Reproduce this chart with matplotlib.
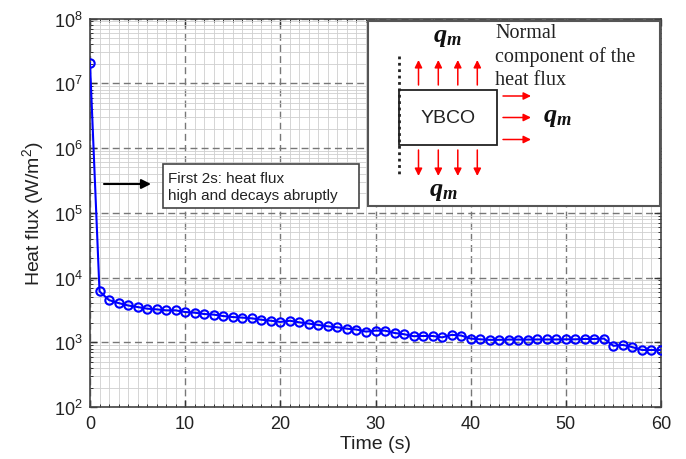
import matplotlib
matplotlib.use("Agg")
import matplotlib.pyplot as plt
from matplotlib.ticker import MultipleLocator, LogLocator, NullFormatter
from matplotlib.patches import Rectangle

plt.rcParams['font.family'] = ['Liberation Sans', 'DejaVu Sans']
plt.rcParams['mathtext.fontset'] = 'custom'
plt.rcParams['mathtext.rm'] = 'Liberation Sans'
plt.rcParams['mathtext.it'] = 'Liberation Sans:italic'
plt.rcParams['mathtext.bf'] = 'Liberation Serif:italic:bold'

# ---- data ----
time_s = list(range(0, 61))
heat_flux = [2.04e7, 6100, 4480, 4030, 3700, 3500, 3300, 3220, 3110, 3110,
             2930, 2860, 2730, 2670, 2540, 2450, 2400, 2340, 2230, 2150,
             2060, 2150, 2030, 1940, 1850, 1760, 1700, 1620, 1570, 1460,
             1510, 1510, 1390, 1330, 1240, 1250, 1250, 1190, 1300, 1270,
             1140, 1110, 1090, 1090, 1100, 1100, 1100, 1105, 1105, 1105,
             1110, 1110, 1125, 1125, 1140, 880, 910, 840, 760, 760, 760]
x_ticks = [0, 10, 20, 30, 40, 50, 60]
y_ticks = [1e2, 1e3, 1e4, 1e5, 1e6, 1e7, 1e8]

W, H = 686, 460
fig = plt.figure(figsize=(W / 100, H / 100), dpi=100)
ax_l, ax_r, ax_t, ax_b = 90, 661, 19.5, 408
ax = fig.add_axes([ax_l / W, 1 - ax_b / H, (ax_r - ax_l) / W, (ax_b - ax_t) / H])

ax.plot(time_s, heat_flux, color='#0000ff', lw=1.5, marker='o', ms=6,
        mfc='none', mec='#0000ff', mew=1.5, zorder=3)
ax.set_yscale('log')
ax.set_xlim(0, 60)
ax.set_ylim(1e2, 1e8)
ax.set_xticks(x_ticks)
ax.set_yticks(y_ticks)
ax.xaxis.set_minor_locator(MultipleLocator(1))
ax.yaxis.set_minor_locator(LogLocator(base=10, subs=range(2, 10), numticks=20))
ax.yaxis.set_minor_formatter(NullFormatter())
ax.grid(which='major', color='#777777', ls=(0, (5, 3)), lw=1.0)
ax.grid(which='minor', color='#cfcfcf', ls='-', lw=0.6)
ax.set_axisbelow(True)
ax.tick_params(which='both', direction='in', top=True, right=True,
               colors='#333333', labelcolor='#222222', labelsize=13)
ax.tick_params(axis='x', which='major', pad=6)
ax.tick_params(axis='y', which='major', pad=5)
ax.tick_params(which='major', length=5, width=1)
ax.tick_params(which='minor', length=2.5, width=0.7)
for sp in ax.spines.values():
    sp.set_color('#444444')
    sp.set_linewidth(1.2)
ax.set_xlabel('Time (s)', fontsize=14, color='#222222', labelpad=2)
ax.set_ylabel('Heat flux (W/m$^{2}$)', fontsize=14, color='#222222', labelpad=6)

# ---- overlay in pixel coordinates for annotations ----
ov = fig.add_axes([0, 0, 1, 1], facecolor='none', zorder=5)
ov.set_xlim(0, W)
ov.set_ylim(H, 0)
ov.axis('off')

# annotation box
ov.add_patch(Rectangle((163, 165), 196, 44, facecolor='white',
                       edgecolor='#444444', lw=1.2))
ov.text(168, 187.5, 'First 2s: heat flux\nhigh and decays abruptly',
        fontsize=11, color='#222222', va='center', ha='left', linespacing=1.2)
ov.annotate('', xy=(151, 185), xytext=(104, 185),
            arrowprops=dict(arrowstyle='-|>', color='black', lw=1.5,
                            mutation_scale=14, shrinkA=0, shrinkB=0))

# inset schematic
ov.add_patch(Rectangle((368, 22), 292, 185, facecolor='white',
                       edgecolor='#555555', lw=1.5))
ov.add_patch(Rectangle((399, 91), 98, 55, facecolor='white',
                       edgecolor='#222222', lw=1.3))
ov.text(448, 118.5, 'YBCO', fontsize=14, ha='center', va='center', color='#222222')
ov.plot([399, 399], [57, 178], color='#222222', lw=2, ls=(0, (1, 1.3)))
arrow_kw = dict(arrowstyle='-|>', color='red', lw=1.1, mutation_scale=11,
                shrinkA=0, shrinkB=0)
for xa in [418.5, 438.3, 457.8, 477.3]:
    ov.annotate('', xy=(xa, 61), xytext=(xa, 86), arrowprops=arrow_kw)
    ov.annotate('', xy=(xa, 177), xytext=(xa, 151), arrowprops=arrow_kw)
for ya in [97, 118.5, 140.5]:
    ov.annotate('', xy=(531, ya), xytext=(503, ya), arrowprops=arrow_kw)
qkw = dict(fontsize=19, ha='center', va='center', color='#111111')
ov.text(447, 37, r'$\mathbf{q_m}$', **qkw)
ov.text(557, 117, r'$\mathbf{q_m}$', **qkw)
ov.text(443, 191, r'$\mathbf{q_m}$', **qkw)
ov.text(495, 57, 'Normal\ncomponent of the\nheat flux', fontsize=14.5,
        family=['Liberation Serif', 'DejaVu Serif'], ha='left', va='center',
        color='#222222', linespacing=1.3)

fig.savefig('out.png', dpi=100, facecolor='white')
